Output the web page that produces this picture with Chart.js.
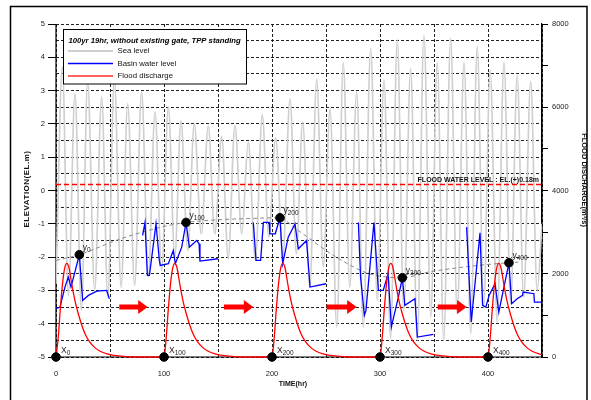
<!DOCTYPE html>
<html>
<head>
<meta charset="utf-8">
<script src="https://cdn.jsdelivr.net/npm/chart.js@4.4.1/dist/chart.umd.min.js"></script>
<style>
  html, body { margin: 0; padding: 0; background: #fff; }
  #wrap { width: 591px; height: 400px; }
</style>
</head>
<body>
<div id="wrap"><canvas id="myChart" width="591" height="400"></canvas></div>
<script>
// sea level (tide) - peaks and troughs
const seaHours = [0, 5.9, 11.5, 17.6, 23.5, 29.3, 35.8, 42.3, 48, 54, 60.3, 66.4, 72.8, 79.3, 85.5, 91.7, 97.8, 104, 110, 115.7,
  122, 128, 134.5, 141, 147, 153.4, 159.5, 165.7, 172, 178, 184.6, 191, 197, 203.4, 210, 216.7, 222.5, 228.4, 235, 241.4,
  247.5, 253.7, 260, 266, 272, 278.4, 284.6, 291.4, 297.5, 303.7, 309.8, 316, 322, 328.4, 334.5, 340.7, 347, 353, 359, 365.4,
  371.5, 377.8, 384, 390, 396, 402, 408.5, 414.8, 421, 427, 433, 439.5, 445.5, 450];
const seaLevel = [-2.8, 3.72, -3.15, 2.92, -3.6, 3.27, -3.0, 2.81, -3.2, 3.37, -2.9, 2.61, -2.85, 2.96, -2.6, 2.36, -2.4, 2.51, -2.0, 2.09,
  -1.8, 2.0, -1.3, 1.93, -1.3, 1.62, -2.05, 1.96, -1.3, 1.45, -2.1, 2.27, -1.4, 1.59, -2.0, 2.75, -1.9, 2.06, -2.9, 3.34,
  -2.3, 2.46, -4.1, 3.84, -2.9, 2.96, -4.1, 4.27, -3.3, 3.32, -4.45, 4.53, -3.6, 3.67, -4.5, 4.67, -3.8, 3.85, -4.5, 4.57,
  -3.7, 3.85, -4.3, 4.32, -3.5, 3.62, -3.95, 3.85, -3.4, 3.45, -3.2, 3.27, -3.0, -1.0];

// basin water level, null = gap between runs
const basinHours = [0, 3.7, 8.3, 11.4, 13.9, 21.6, 24.7, 30, 37.7, 46.9, 49.4, 65,
  80.2, 82.4, 84.6, 86.5, 92.6, 95.7, 96.5, 104, 108.6, 110.5, 116.4, 120.4, 123.5, 130.2, 132.5, 133.3, 150, 165,
  182.7, 185.2, 189.5, 192, 197.3, 198, 203, 207.4, 209.9, 215, 221.3, 224.4, 232, 235.2, 250, 265,
  280, 282, 285.5, 287, 294.4, 298.5, 303, 307.5, 310.5, 317, 320.7, 323, 332.4, 334.6, 349.4, 365,
  380.2, 384.5, 392.6, 395, 398, 401, 406.5, 410, 419.4, 421.9, 427, 432, 432.5, 442.5, 443, 450];
const basinLevel = [-3.55, -3.5, -2.9, -2.6, -2.9, -1.93, -3.3, -3.15, -3.02, -3.0, -3.25, null,
  -1.35, -0.96, -2.55, -2.55, -1.0, -2.1, -2.25, -2.2, -1.8, -2.2, -1.7, -0.96, -1.7, -1.5, -1.6, -2.12, -2.05, null,
  -0.96, -2.1, -2.1, -0.96, -0.96, -1.3, -1.3, -0.82, -2.2, -1.4, -1.0, -1.75, -1.5, -2.9, -2.8, null,
  -0.96, -2.6, -3.75, -3.6, -0.96, -3.0, -3.0, -2.5, -4.1, -3.2, -2.62, -3.45, -3.25, -4.4, -4.32, null,
  -1.1, -3.95, -1.27, -3.45, -3.5, -3.15, -2.8, -3.65, -2.17, -3.4, -3.25, -3.15, -3.05, -3.1, -3.35, -3.35];

// one flood hydrograph (hours after start, m3/s), repeated at each start time
const floodT = [0, 2, 4, 6, 8, 10, 12, 14, 16, 18, 20, 22, 25, 28, 31, 35, 40, 48, 58, 72, 90];
const floodQ = [0, 450, 1150, 1750, 2130, 2250, 2150, 1850, 1550, 1300, 1100, 920, 680, 500, 370, 250, 150, 70, 25, 0, 0];
const floodStarts = [0, 100, 200, 300, 400];

// dashed envelope through the y points
const envHours = [0, 21.6, 40, 60, 80, 100, 120.4, 150, 180, 207.4, 220, 235, 250, 270, 290, 320.7, 345, 370, 400, 419.4, 428];
const envLevel = [-2.1, -1.93, -1.7, -1.45, -1.25, -1.08, -0.96, -0.88, -0.84, -0.82, -1.1, -1.45, -1.8, -2.2, -2.5, -2.62, -2.45, -2.33, -2.22, -2.17, -2.15];

const floodWaterLevel = 0.18;

const xPtHours = [0, 100, 200, 300, 400];
const xPtLevel = [-5, -5, -5, -5, -5];
const yPtHours = [21.6, 120.4, 207.4, 320.7, 419.4];
const yPtLevel = [-1.93, -0.96, -0.82, -2.62, -2.17];
const ptSubs = ['0', '100', '200', '300', '400'];

const arrowFrom = [58.6, 155.5, 250.6, 353.4];
const arrowTo = [84.9, 182.7, 278.4, 380.2];
const arrowLevel = -3.5;

const FONT = '"Liberation Sans", Arial, sans-serif';

const toXY = (xs, ys) => xs.map((x, i) => ({ x: x, y: ys[i] }));

const floodData = [];
floodStarts.forEach(s => {
  floodT.forEach((t, i) => floodData.push({ x: s + t, y: floodQ[i] }));
});

function subLabel(ctx, main, sub, x, y) {
  ctx.font = '8.5px ' + FONT;
  ctx.fillText(main, x, y);
  const w = ctx.measureText(main).width;
  ctx.font = '6.5px ' + FONT;
  ctx.fillText(sub, x + w, y + 2);
}

const extras = {
  id: 'extras',
  beforeDatasetsDraw(chart) {
    // solid left and bottom axis lines (grid dash would otherwise apply)
    const ctx = chart.ctx, a = chart.chartArea;
    ctx.save();
    ctx.strokeStyle = '#000';
    ctx.lineWidth = 1.2;
    ctx.beginPath();
    ctx.moveTo(a.left, a.top);
    ctx.lineTo(a.left, a.bottom);
    ctx.lineTo(a.right, a.bottom);
    ctx.lineTo(a.right, a.top);
    ctx.stroke();
    ctx.restore();
  },
  afterDatasetsDraw(chart) {
    const ctx = chart.ctx;
    const xs = chart.scales.x, ys = chart.scales.y;
    ctx.save();

    // red arrows
    ctx.fillStyle = '#ff0000';
    arrowFrom.forEach((a, i) => {
      const x1 = xs.getPixelForValue(a);
      const x2 = xs.getPixelForValue(arrowTo[i]);
      const y = ys.getPixelForValue(arrowLevel);
      ctx.beginPath();
      ctx.moveTo(x1, y - 2.5);
      ctx.lineTo(x2 - 9.5, y - 2.5);
      ctx.lineTo(x2 - 9.5, y - 7);
      ctx.lineTo(x2, y);
      ctx.lineTo(x2 - 9.5, y + 7);
      ctx.lineTo(x2 - 9.5, y + 2.5);
      ctx.lineTo(x1, y + 2.5);
      ctx.closePath();
      ctx.fill();
    });

    // point labels
    ctx.fillStyle = '#222';
    ctx.textAlign = 'left';
    ctx.textBaseline = 'alphabetic';
    xPtHours.forEach((h, i) => {
      subLabel(ctx, 'X', ptSubs[i], xs.getPixelForValue(h) + 5, ys.getPixelForValue(xPtLevel[i]) - 4.5);
    });
    yPtHours.forEach((h, i) => {
      subLabel(ctx, 'y', ptSubs[i], xs.getPixelForValue(h) + 3.5, ys.getPixelForValue(yPtLevel[i]) - 4.5);
    });

    // flood water level text
    ctx.font = 'bold 7px ' + FONT;
    ctx.textAlign = 'right';
    ctx.fillStyle = '#111';
    ctx.fillText('FLOOD WATER LEVEL : EL.(+)0.18m', xs.right - 3, ys.getPixelForValue(floodWaterLevel) - 3);

    // legend
    ctx.fillStyle = '#fff';
    ctx.fillRect(63.5, 29.5, 183, 54.5);
    ctx.strokeStyle = '#000';
    ctx.lineWidth = 1;
    ctx.strokeRect(63.5, 29.5, 183, 54.5);
    ctx.fillStyle = '#000';
    ctx.textAlign = 'left';
    ctx.textBaseline = 'middle';
    ctx.font = 'italic bold 7.7px ' + FONT;
    ctx.fillText('100yr 19hr, without existing gate, TPP standing', 68.5, 40.5);
    const items = [
      { label: chart.data.datasets[5].label, color: '#cfcfcf', w: 2, y: 51 },
      { label: chart.data.datasets[2].label, color: '#0000ff', w: 1.3, y: 63.5 },
      { label: chart.data.datasets[1].label, color: '#ff6060', w: 2, y: 76 }
    ];
    ctx.font = '7.8px ' + FONT;
    items.forEach(it => {
      ctx.strokeStyle = it.color;
      ctx.lineWidth = it.w;
      ctx.beginPath();
      ctx.moveTo(68, it.y);
      ctx.lineTo(113, it.y);
      ctx.stroke();
      ctx.fillStyle = '#111';
      ctx.fillText(it.label, 117.5, it.y);
    });

    // axis titles
    ctx.fillStyle = '#111';
    ctx.textAlign = 'center';
    ctx.textBaseline = 'middle';
    ctx.save();
    ctx.translate(27, 189);
    ctx.rotate(-Math.PI / 2);
    ctx.font = 'bold 8px ' + FONT;
    ctx.letterSpacing = '0.5px';
    ctx.fillText('ELEVATION(EL.m)', 0, 0);
    ctx.restore();

    ctx.save();
    ctx.translate(584.5, 180);
    ctx.rotate(Math.PI / 2);
    ctx.font = 'bold 7.5px ' + FONT;
    ctx.fillText('FLOOD DISCHARGE(m³/s)', 0, 0);
    ctx.restore();

    ctx.font = 'bold 7px ' + FONT;
    ctx.fillText('TIME(hr)', 293, 384);

    // outer frame
    ctx.strokeStyle = '#000';
    ctx.lineWidth = 1.5;
    ctx.strokeRect(10.5, 6.5, 576.5, 420);
    ctx.restore();
  }
};

const tickFont = { family: FONT, size: 7.5 };
const gridDash = [3, 2];

const ctx = document.getElementById('myChart').getContext('2d');
const myChart = new Chart(ctx, {
  type: 'line',
  data: {
    datasets: [
      {
        label: 'y points',
        data: toXY(yPtHours, yPtLevel),
        showLine: false,
        pointRadius: 4.3,
        pointBackgroundColor: '#000',
        pointBorderColor: '#000',
        clip: false,
        order: 0
      },
      {
        label: 'Flood discharge',
        data: floodData,
        yAxisID: 'y2',
        borderColor: '#ff0000',
        borderWidth: 1.3,
        pointRadius: 0,
        cubicInterpolationMode: 'monotone',
        clip: { left: 0, right: 0, top: 0, bottom: 3 },
        order: 2
      },
      {
        label: 'Basin water level',
        data: toXY(basinHours, basinLevel),
        borderColor: '#0000ff',
        borderWidth: 1.3,
        pointRadius: 0,
        tension: 0,
        spanGaps: false,
        order: 3
      },
      {
        label: 'envelope',
        data: toXY(envHours, envLevel),
        borderColor: '#8a8a8a',
        borderWidth: 1,
        borderDash: [4, 3],
        pointRadius: 0,
        cubicInterpolationMode: 'monotone',
        order: 4
      },
      {
        label: 'Flood water level',
        data: [{ x: 0, y: floodWaterLevel }, { x: 450, y: floodWaterLevel }],
        borderColor: '#ff0000',
        borderWidth: 1.4,
        borderDash: [5, 3],
        pointRadius: 0,
        order: 5
      },
      {
        label: 'Sea level',
        data: toXY(seaHours, seaLevel),
        borderColor: '#cfcfcf',
        borderWidth: 1.7,
        pointRadius: 0,
        cubicInterpolationMode: 'monotone',
        order: 6
      },
      {
        label: 'x points',
        data: toXY(xPtHours, xPtLevel),
        showLine: false,
        pointRadius: 4.3,
        pointBackgroundColor: '#000',
        pointBorderColor: '#000',
        clip: false,
        order: 0
      }
    ]
  },
  options: {
    responsive: false,
    animation: false,
    events: [],
    layout: { padding: { top: 24, left: 0, right: 0, bottom: 0 } },
    plugins: {
      legend: { display: false },
      tooltip: { enabled: false }
    },
    scales: {
      x: {
        type: 'linear',
        min: 0,
        max: 450,
        ticks: {
          stepSize: 50,
          autoSkip: false,
          maxRotation: 0,
          padding: 8,
          color: '#222',
          font: tickFont,
          callback: v => (v % 100 === 0 ? v : '')
        },
        grid: { color: '#222', lineWidth: 1, tickLength: 4, tickColor: 'rgba(0,0,0,0)' },
        border: { display: false, dash: gridDash },
        afterFit: s => { s.height = 43; }
      },
      y: {
        position: 'left',
        min: -5,
        max: 5,
        ticks: {
          stepSize: 0.5,
          autoSkip: false,
          padding: 3,
          color: '#222',
          font: tickFont,
          callback: v => (Number.isInteger(v) ? v : '')
        },
        grid: {
          color: '#222',
          lineWidth: 1,
          tickLength: 8,
          tickColor: c => (Number.isInteger(c.tick.value) ? '#000' : 'rgba(0,0,0,0)')
        },
        border: { display: false, dash: gridDash },
        afterFit: s => { s.width = 56; }
      },
      y2: {
        position: 'right',
        min: 0,
        max: 8000,
        ticks: {
          stepSize: 1000,
          autoSkip: false,
          padding: 4,
          color: '#222',
          font: tickFont,
          callback: v => (v % 2000 === 0 ? v : '')
        },
        grid: { drawOnChartArea: false, tickLength: 6, tickColor: '#000' },
        border: { display: true, color: '#000', width: 1.2 },
        afterFit: s => { s.width = 49; }
      }
    }
  },
  plugins: [extras]
});
</script>
</body>
</html>
